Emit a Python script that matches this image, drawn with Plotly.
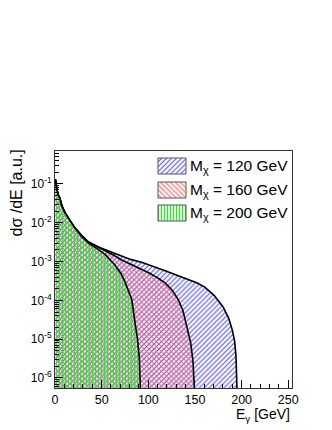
import plotly.graph_objects as go

# ---- data ----
e_120 = [0.5, 1, 2, 3.5, 5, 7.5, 10.7, 16.3, 21.3, 28.5, 35.5, 45.7, 54, 63, 71, 81, 93.5, 105.5,
         118, 130, 142, 152.5, 160.5, 170.5, 180, 186, 190, 192.5, 194, 195, 195.3]
y_120 = [0.132, 0.100, 0.0708, 0.0525, 0.0447, 0.0269, 0.0182, 0.0112, 0.00741, 0.00479, 0.00324,
         0.00240, 0.00200, 0.00165, 0.00138, 0.00114, 9.5e-4, 7.6e-4, 5.8e-4, 4.5e-4, 3.45e-4,
         2.8e-4, 2.2e-4, 1.35e-4, 6.9e-5, 3.55e-5, 1.74e-5, 8.9e-6, 3.55e-6, 1.0e-6, 3.2e-7]

e_160 = [0.5, 1, 2, 3.5, 5, 7.5, 10.7, 16.3, 21.3, 28.5, 35.5, 45.7, 54, 63, 71, 81, 93.5, 101.5,
         110, 118, 126, 132, 137, 142, 145.5, 148, 149.5, 149.8]
y_160 = [0.132, 0.100, 0.0708, 0.0525, 0.0447, 0.0269, 0.0182, 0.0112, 0.00741, 0.00479, 0.00324,
         0.00240, 0.00191, 0.00145, 0.00112, 8.7e-4, 6.3e-4, 5.0e-4, 3.8e-4, 2.82e-4, 1.78e-4,
         1.05e-4, 5.6e-5, 1.9e-5, 7.9e-6, 2.5e-6, 7.9e-7, 3.2e-7]

e_200 = [0.5, 1, 2, 3.5, 5, 7.5, 10.7, 16.3, 21.3, 28.5, 35.5, 45.7, 54, 64, 71, 75, 79, 82.3,
         85.3, 88.4, 90.4, 91.5, 91.8]
y_200 = [0.132, 0.100, 0.0708, 0.0525, 0.0447, 0.0269, 0.0182, 0.0112, 0.00741, 0.00447, 0.00302,
         0.00209, 0.00151, 8.3e-4, 4.8e-4, 3.0e-4, 1.78e-4, 1.05e-4, 3.2e-5, 1.0e-5, 3.2e-6,
         7.9e-7, 3.2e-7]

series_names = ["M<sub>χ</sub> = 120 GeV", "M<sub>χ</sub> = 160 GeV", "M<sub>χ</sub> = 200 GeV"]
series_x = [e_120, e_160, e_200]
series_y = [y_120, y_160, y_200]
hatch_shape = ["/", "\\", "|"]
hatch_color = ["#4a4aff", "#ff5a5a", "#2ee82e"]
hatch_size = [3.5, 3.5, 3]
hatch_solid = [0.3, 0.3, 0.45]

y_tickvals = [1e-6, 1e-5, 1e-4, 1e-3, 1e-2, 1e-1]
y_ticktext = ["10<sup>-6</sup>", "10<sup>-5</sup>", "10<sup>-4</sup>",
              "10<sup>-3</sup>", "10<sup>-2</sup>", "10<sup>-1</sup>"]
x_tickvals = [0, 50, 100, 150, 200, 250]

FONT = "Liberation Sans, Arial, Helvetica, sans-serif"

fig = go.Figure()

for xs, ys, shp, col, sz, so in zip(series_x, series_y, hatch_shape, hatch_color, hatch_size, hatch_solid):
    fig.add_trace(go.Scatter(
        x=xs, y=ys, mode="lines", fill="tozeroy",
        fillcolor="rgba(0,0,0,0)",
        fillpattern=dict(shape=shp, fgcolor=col, bgcolor="rgba(0,0,0,0)",
                         size=sz, solidity=so, fillmode="replace"),
        line=dict(color="black", width=1.6),
        showlegend=False, hoverinfo="skip",
    ))

# ---- manual legend (pixel-like overlay axes) ----
rows_top = [158, 182, 205]
for name, shp, col, sz, so, top in zip(series_names, hatch_shape, hatch_color, hatch_size, hatch_solid, rows_top):
    fig.add_trace(go.Scatter(
        x=[158, 186, 186, 158, 158], y=[top, top, top + 16, top + 16, top],
        xaxis="x2", yaxis="y2", mode="lines", fill="toself",
        fillcolor="rgba(0,0,0,0)",
        fillpattern=dict(shape=shp, fgcolor=col, bgcolor="rgba(0,0,0,0)",
                         size=sz, solidity=so, fillmode="replace"),
        line=dict(color="#555555", width=1),
        showlegend=False, hoverinfo="skip",
    ))
    fig.add_annotation(x=188, y=top + 8, xref="x2", yref="y2", text=name,
                       showarrow=False, xanchor="left", yanchor="middle",
                       font=dict(family=FONT, size=15.5, color="black"))

# axis titles (paper coords; plot area is 237 x 237 px)
fig.add_annotation(x=(16 - 55) / 237, y=(388 - 148) / 237, xref="paper", yref="paper",
                   text="dσ /dE [a.u.]", textangle=-90, showarrow=False,
                   xanchor="center", yanchor="top",
                   font=dict(family=FONT, size=16, color="black"))
fig.add_annotation(x=1.0, y=(388 - 404) / 237, xref="paper", yref="paper",
                   text="E<sub>γ</sub> [GeV]", showarrow=False,
                   xanchor="right", yanchor="top",
                   font=dict(family=FONT, size=14, color="black"))

minor_y = [k * 10.0 ** e for e in range(-7, 1) for k in range(2, 10)]

fig.update_layout(
    width=332, height=430,
    margin=dict(l=55, r=40, t=151, b=42, autoexpand=False),
    paper_bgcolor="white", plot_bgcolor="white",
    showlegend=False,
    font=dict(family=FONT, color="black"),
    xaxis=dict(
        range=[0, 254], showgrid=False, zeroline=False, automargin=False,
        showline=True, mirror=True, linecolor="#333333", linewidth=1,
        ticks="inside", ticklen=8, tickcolor="black",
        tickvals=x_tickvals, tickfont=dict(size=12.5, family=FONT),
        minor=dict(ticks="inside", ticklen=4, dtick=10, tick0=0, tickcolor="black", showgrid=False),
    ),
    yaxis=dict(
        type="log", range=[-6.258, -0.15], showgrid=False, zeroline=False, automargin=False,
        showline=True, mirror=True, linecolor="#333333", linewidth=1,
        ticks="inside", ticklen=8, tickcolor="black",
        tickvals=y_tickvals, ticktext=y_ticktext, tickfont=dict(size=12, family=FONT),
        minor=dict(ticks="inside", ticklen=4, tickvals=minor_y, tickcolor="black", showgrid=False),
    ),
    xaxis2=dict(domain=[0, 1], range=[55, 292], overlaying="x", anchor="y2",
                visible=False, fixedrange=True),
    yaxis2=dict(domain=[0, 1], range=[388, 151], overlaying="y", anchor="x2",
                visible=False, fixedrange=True),
)

fig.write_html("out.html", config={"displayModeBar": False},
               post_script="document.body.style.margin='0';")
